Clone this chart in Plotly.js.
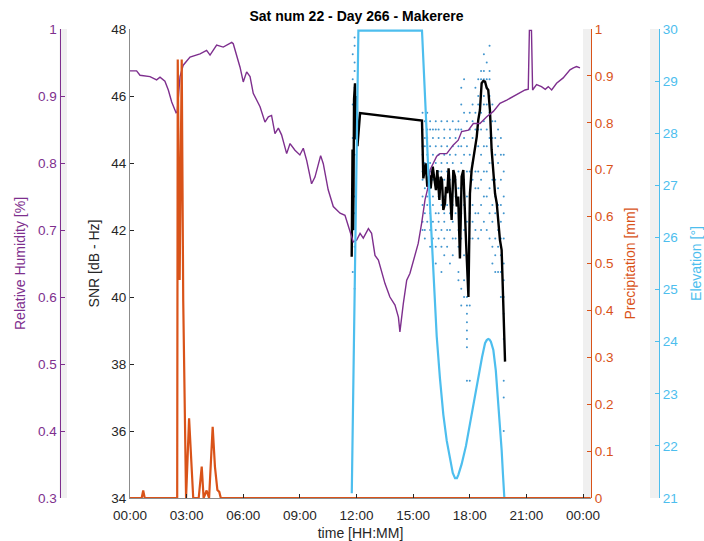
<!DOCTYPE html>
<html>
<head>
<meta charset="utf-8">
<script src="https://cdn.plot.ly/plotly-3.0.1.min.js"></script>
<style>html,body{margin:0;padding:0;background:#fff;}#chart{width:704px;height:541px;}</style>
</head>
<body>
<div id="chart"></div>
<script>
// ---------- data (time in hours of day 266) ----------
const hourTicks = [0, 3, 6, 9, 12, 15, 18, 21, 24];
const hourLabels = ["00:00", "03:00", "06:00", "09:00", "12:00", "15:00", "18:00", "21:00", "00:00"];

// Relative humidity (fraction)
const rhT = [0, 0.35, 0.53, 1.06, 1.41, 1.59, 1.85, 2.03, 2.21, 2.44, 2.5, 2.65, 2.82, 3.18, 3.71, 4.06, 4.24, 4.59, 4.94, 5.39, 5.47, 5.83, 6.0, 6.18, 6.36, 6.53, 6.89, 7.15, 7.33, 7.5, 7.68, 7.86, 8.03, 8.3, 8.48, 8.74, 9.0, 9.18, 9.36, 9.62, 9.8, 10.1, 10.24, 10.5, 10.77, 11.13, 11.39, 11.66, 11.83, 12.01, 12.19, 12.36, 12.63, 12.8, 12.98, 13.16, 13.33, 13.51, 13.77, 14.04, 14.22, 14.3, 14.48, 14.66, 14.83, 15.01, 15.27, 15.45, 15.63, 15.8, 15.9, 16.25, 16.42, 16.78, 17.13, 17.39, 17.57, 17.93, 18.19, 18.54, 18.9, 19.25, 19.6, 19.96, 20.31, 20.66, 20.93, 21.1, 21.16, 21.27, 21.33, 21.54, 21.8, 22.0, 22.16, 22.34, 22.6, 22.95, 23.31, 23.49, 23.66, 23.84];
const rhV = [0.9375, 0.9375, 0.931, 0.929, 0.924, 0.928, 0.922, 0.909, 0.891, 0.875, 0.876, 0.929, 0.946, 0.958, 0.963, 0.968, 0.961, 0.976, 0.973, 0.980, 0.978, 0.943, 0.921, 0.936, 0.929, 0.904, 0.884, 0.861, 0.869, 0.871, 0.844, 0.852, 0.842, 0.814, 0.829, 0.819, 0.812, 0.822, 0.804, 0.769, 0.779, 0.811, 0.799, 0.760, 0.735, 0.725, 0.722, 0.695, 0.682, 0.685, 0.695, 0.688, 0.702, 0.695, 0.662, 0.655, 0.638, 0.620, 0.600, 0.588, 0.570, 0.548, 0.590, 0.625, 0.635, 0.655, 0.680, 0.710, 0.745, 0.765, 0.790, 0.810, 0.814, 0.814, 0.827, 0.834, 0.847, 0.849, 0.859, 0.859, 0.869, 0.877, 0.889, 0.894, 0.899, 0.904, 0.909, 0.910, 0.998, 0.998, 0.909, 0.917, 0.914, 0.910, 0.914, 0.909, 0.919, 0.927, 0.939, 0.942, 0.944, 0.942];

// Precipitation (mm)
const precT = [0, 0.62, 0.70, 0.78, 2.50, 2.53, 2.63, 2.74, 2.82, 2.97, 3.13, 3.35, 3.64, 3.80, 3.90, 4.06, 4.19, 4.38, 4.50, 4.63, 4.73, 4.81, 24.4];
const precV = [0, 0, 0.016, 0, 0, 0.935, 0.465, 0.935, 0.42, 0, 0.17, 0, 0, 0.067, 0, 0.016, 0, 0.152, 0.067, 0.017, 0.013, 0, 0];

// Satellite elevation (deg)
const elevT = [11.75, 12.1, 15.47, 15.55, 15.63, 15.72, 15.8, 15.93, 16.02, 16.12, 16.25, 16.42, 16.6, 16.78, 17.0, 17.1, 17.22, 17.32, 17.4, 17.57, 17.8, 18.01, 18.25, 18.45, 18.65, 18.81, 18.9, 18.98, 19.05, 19.12, 19.25, 19.38, 19.51, 19.6, 19.69, 19.76, 19.83];
const elevV = [21.09, 29.97, 29.97, 29.4, 28.7, 28.0, 27.3, 26.3, 25.6, 25.0, 24.1, 23.3, 22.6, 22.1, 21.65, 21.48, 21.38, 21.38, 21.45, 21.65, 22.0, 22.43, 22.9, 23.33, 23.7, 23.97, 24.03, 24.05, 24.04, 24.0, 23.84, 23.45, 22.88, 22.45, 21.92, 21.45, 21.02];

// Smoothed SNR (dB-Hz)
const snrT = [11.746, 11.79, 11.83, 11.87, 11.92, 11.96, 12.01, 12.05, 12.19, 15.47, 15.54, 15.67, 15.75, 15.86, 15.93, 16.04, 16.11, 16.21, 16.28, 16.39, 16.46, 16.53, 16.6, 16.69, 16.74, 16.81, 16.88, 16.95, 17.04, 17.13, 17.22, 17.31, 17.39, 17.48, 17.57, 17.66, 17.71, 17.8, 17.93, 18.01, 18.1, 18.19, 18.28, 18.37, 18.45, 18.54, 18.63, 18.72, 18.81, 18.9, 18.98, 19.07, 19.16, 19.25, 19.34, 19.43, 19.51, 19.6, 19.69, 19.76, 19.87];
const snrV = [41.2, 44.4, 42.0, 45.9, 46.38, 44.7, 46.0, 44.5, 45.49, 45.27, 43.54, 43.99, 43.29, 43.64, 43.24, 43.89, 43.59, 43.19, 43.79, 42.9, 43.59, 43.49, 42.6, 42.8, 43.29, 43.1, 43.84, 43.1, 42.3, 43.79, 43.59, 42.7, 43.0, 41.15, 43.59, 43.79, 42.9, 41.7, 40.0, 43.09, 43.8, 44.09, 44.49, 44.78, 45.28, 45.58, 46.38, 46.45, 46.43, 46.24, 46.18, 45.58, 44.39, 43.59, 43.09, 42.8, 42.3, 41.7, 41.4, 40.2, 38.07];

// Raw SNR observations, grouped by time column
const dotColT = [11.80, 11.90, 15.50, 15.62, 15.75, 15.90, 16.05, 16.20, 16.35, 16.50, 16.65, 16.80, 16.95, 17.10, 17.25, 17.40, 17.55, 17.70, 17.85, 18.00, 18.15, 18.30, 18.45, 18.60, 18.75, 18.90, 19.05, 19.20, 19.35, 19.50, 19.65, 19.80];
const dotColS = [
  [47.25, 46.5, 45.75, 44.75, 43.5, 42.0, 40.75],
  [47.75, 47.5, 47.0, 46.75, 46.25, 46.0, 45.25, 44.25, 43.0, 42.5, 41.5, 40.25],
  [45.5, 45.0, 44.5, 44.25, 43.75, 43.5, 43.0, 42.75, 42.25, 42.0],
  [45.25, 44.75, 44.5, 44.0, 43.75, 43.25, 42.5, 42.0, 41.75],
  [45.5, 45.0, 44.75, 44.25, 43.5, 43.0, 42.75, 42.25],
  [45.25, 45.0, 44.5, 44.0, 43.75, 43.25, 42.5, 42.0, 41.5],
  [45.0, 44.75, 44.25, 43.5, 43.0, 42.75, 42.25, 41.75],
  [45.25, 45.0, 44.5, 44.0, 43.5, 43.25, 42.5, 42.0, 41.5, 41.0],
  [45.0, 44.75, 44.25, 43.75, 43.0, 42.5, 42.25, 41.75],
  [45.25, 44.5, 44.0, 43.75, 43.25, 42.75, 42.0, 41.5, 40.75],
  [45.0, 44.75, 44.25, 43.5, 43.0, 42.5, 42.25, 41.75, 41.25],
  [45.25, 44.5, 44.0, 43.75, 43.25, 42.75, 42.0, 41.5],
  [45.0, 44.75, 44.25, 43.5, 43.0, 42.5, 42.0, 41.0],
  [45.25, 44.5, 44.0, 43.25, 42.75, 42.25, 41.75, 41.25],
  [45.0, 44.75, 44.25, 43.5, 43.0, 42.5, 41.75],
  [45.25, 45.0, 44.5, 43.75, 43.25, 42.75, 42.0, 41.5, 40.75, 40.5],
  [46.25, 45.75, 45.0, 44.5, 44.0, 43.25, 42.5, 41.75, 40.25, 39.75],
  [46.5, 45.5, 44.75, 44.25, 43.5, 42.75, 42.0, 41.25, 40.5, 40.0],
  [45.25, 44.5, 43.75, 43.0, 42.25, 40.0, 39.75, 39.5, 39.25, 39.0, 38.75, 38.5, 37.5],
  [45.5, 45.0, 44.25, 43.75, 43.0, 42.5, 41.75, 39.75, 37.5],
  [45.75, 45.25, 44.75, 44.0, 43.5, 42.75, 42.25, 41.75],
  [46.25, 45.5, 45.0, 44.5, 43.75, 43.25, 42.5, 42.0],
  [46.5, 46.0, 45.75, 45.0, 44.5, 43.75, 43.25, 42.5, 41.75],
  [46.75, 46.5, 46.0, 45.5, 45.0, 44.25, 43.5, 42.75, 42.0],
  [47.25, 46.75, 46.5, 46.0, 45.75, 45.25, 44.5, 43.75, 43.0, 42.25],
  [47.0, 46.5, 46.25, 45.75, 45.0, 44.5, 43.75, 43.0, 42.0],
  [47.5, 46.75, 46.5, 46.0, 45.5, 44.75, 44.0, 43.25, 42.5, 41.75],
  [45.75, 45.25, 44.75, 44.0, 43.5, 42.75, 42.25, 41.5, 41.0],
  [45.25, 44.75, 44.25, 43.5, 43.0, 42.5, 41.75, 41.25, 40.75],
  [45.0, 44.5, 44.0, 43.25, 42.75, 42.0, 41.5, 40.75],
  [44.75, 44.25, 43.5, 42.75, 42.25, 41.75, 41.25, 40.75, 40.0],
  [44.25, 43.75, 43.0, 42.5, 41.75, 41.0, 40.5, 40.0, 39.5, 38.75, 37.5, 37.0, 36.0]
];

// ---------- build ----------
const dotT = [], dotS = [];
dotColT.forEach((t, i) => dotColS[i].forEach(s => { dotT.push(t); dotS.push(s); }));

const W = 704, H = 541;
const px = v => v / W;
const FONT = "Liberation Sans, Arial, Helvetica, sans-serif";
const C_RH = "#7E2F8E", C_PR = "#D95319", C_EL = "#4DBEEE", C_AX = "#262626";
const TICK_SIZE = 13.5;

const traces = [
  { x: dotT, y: dotS, type: "scatter", mode: "markers", xaxis: "x", yaxis: "y",
    marker: { color: "#0072BD", size: 2, opacity: 0.75 }, hoverinfo: "skip" },
  { x: snrT, y: snrV, type: "scatter", mode: "lines", xaxis: "x", yaxis: "y",
    line: { color: "#000000", width: 2.4 } },
  { x: rhT, y: rhV, type: "scatter", mode: "lines", xaxis: "x", yaxis: "y2",
    line: { color: C_RH, width: 1.4 } },
  { x: precT, y: precV, type: "scatter", mode: "lines", xaxis: "x", yaxis: "y3",
    line: { color: C_PR, width: 2.2 } },
  { x: elevT, y: elevV, type: "scatter", mode: "lines", xaxis: "x", yaxis: "y4",
    line: { color: C_EL, width: 2.2 } }
];

const baseY = {
  showgrid: false, zeroline: false, showline: true, ticks: "inside", ticklen: 4,
  tickfont: { family: FONT, size: TICK_SIZE }, linewidth: 1
};

const layout = {
  width: W, height: H,
  margin: { l: 0, r: 0, t: 29, b: 43, pad: 0 },
  paper_bgcolor: "#ffffff", plot_bgcolor: "#ffffff",
  showlegend: false,
  title: { text: "<b>Sat num 22 - Day 266 - Makerere</b>", font: { family: FONT, size: 14, color: "#000" },
           xref: "container", x: 356.5 / W, xanchor: "center", yref: "container", y: 1 - 16 / H, yanchor: "middle" },
  xaxis: {
    domain: [px(130), px(591)], range: [0, 24.424],
    tickvals: hourTicks, ticktext: hourLabels, ticks: "inside", ticklen: 4, tickcolor: C_AX,
    ticklabelstandoff: 5,
    showline: true, linecolor: "#8c8c8c", linewidth: 1, showgrid: false, zeroline: false,
    tickfont: { family: FONT, size: TICK_SIZE, color: C_AX },
    title: { text: "time [HH:MM]", font: { family: FONT, size: 14, color: C_AX }, standoff: 6 }
  },
  yaxis: Object.assign({}, baseY, {
    range: [34, 48], dtick: 2, tick0: 34, linecolor: "#8c8c8c", tickcolor: C_AX,
    tickfont: { family: FONT, size: TICK_SIZE, color: C_AX },
    title: { text: "SNR [dB - Hz]", font: { family: FONT, size: 14, color: C_AX }, standoff: 8 }
  }),
  yaxis2: Object.assign({}, baseY, {
    overlaying: "y", anchor: "free", position: px(59.5), side: "left",
    range: [0.3, 1], tickvals: [0.3, 0.4, 0.5, 0.6, 0.7, 0.8, 0.9, 1], ticktext: ["0.3", "0.4", "0.5", "0.6", "0.7", "0.8", "0.9", "1"],
    linecolor: C_RH, tickcolor: C_RH, tickfont: { family: FONT, size: TICK_SIZE, color: C_RH },
    title: { text: "Relative Humidity [%]", font: { family: FONT, size: 14, color: C_RH }, standoff: 8 }
  }),
  yaxis3: Object.assign({}, baseY, {
    overlaying: "y", anchor: "free", position: px(591), side: "right",
    range: [0, 1], tickvals: [0, 0.1, 0.2, 0.3, 0.4, 0.5, 0.6, 0.7, 0.8, 0.9, 1], ticktext: ["0", "0.1", "0.2", "0.3", "0.4", "0.5", "0.6", "0.7", "0.8", "0.9", "1"],
    linecolor: C_PR, tickcolor: C_PR, tickfont: { family: FONT, size: TICK_SIZE, color: C_PR },
    title: { text: "Precipitation [mm]", font: { family: FONT, size: 14, color: C_PR }, standoff: 12 }
  }),
  yaxis4: Object.assign({}, baseY, {
    overlaying: "y", anchor: "free", position: px(659), side: "right",
    range: [21, 30], dtick: 1, tick0: 21,
    linecolor: C_EL, tickcolor: C_EL, tickfont: { family: FONT, size: TICK_SIZE, color: C_EL },
    title: { text: "Elevation [°]", font: { family: FONT, size: 14, color: C_EL }, standoff: 17 }
  }),
  shapes: [
    { type: "rect", xref: "paper", yref: "paper", x0: px(59.5), x1: px(67), y0: 0, y1: 1, fillcolor: "#f0f0f0", line: { width: 0 }, layer: "below" },
    { type: "rect", xref: "x", yref: "paper", x0: 24, x1: 24.424, y0: 0, y1: 1, fillcolor: "#f0f0f0", line: { width: 0 }, layer: "below" },
    { type: "rect", xref: "paper", yref: "paper", x0: px(650), x1: px(659), y0: 0, y1: 1, fillcolor: "#f0f0f0", line: { width: 0 }, layer: "below" }
  ]
};

Plotly.newPlot("chart", traces, layout, { staticPlot: true, displayModeBar: false });
</script>
</body>
</html>
